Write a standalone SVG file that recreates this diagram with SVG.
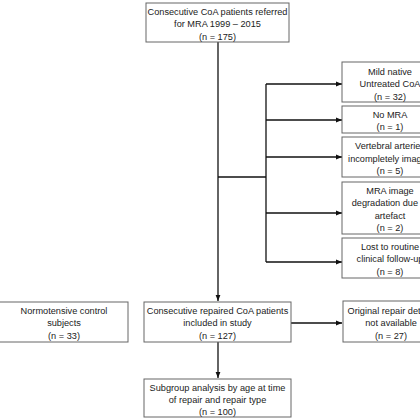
<svg xmlns="http://www.w3.org/2000/svg" width="420" height="420" viewBox="0 0 420 420">
<defs>
<marker id="ah" viewBox="0 0 10 10" refX="10" refY="5" markerWidth="6" markerHeight="6" markerUnits="userSpaceOnUse" orient="auto">
<path d="M0,1 L10,5 L0,9 Z" fill="#111"/>
</marker>
<style>
.box{fill:#fff;stroke:#666;stroke-width:1}
.t{font-family:"Liberation Sans",Arial,sans-serif;font-size:9.2px;fill:#222;text-anchor:middle}
.c{fill:none;stroke:#111;stroke-width:1.3}
</style>
</defs>
<rect width="420" height="420" fill="#fff"/>
<g id="connectors">
<path class="c" d="M218,42 V301" marker-end="url(#ah)"/>
<path class="c" d="M218,177 H266"/>
<path class="c" d="M266,84 V262"/>
<path class="c" d="M266,84 H342" marker-end="url(#ah)"/>
<path class="c" d="M266,120 H342" marker-end="url(#ah)"/>
<path class="c" d="M266,157 H342" marker-end="url(#ah)"/>
<path class="c" d="M266,213 H342" marker-end="url(#ah)"/>
<path class="c" d="M266,262 H342" marker-end="url(#ah)"/>
<path class="c" d="M291,323 H342" marker-end="url(#ah)"/>
<path class="c" d="M218,342 V378" marker-end="url(#ah)"/>
</g>
<g id="top">
<rect class="box" x="146" y="3" width="143" height="39"/>
<text class="t" x="217.5" y="14.5">Consecutive CoA patients referred</text>
<text class="t" x="217.5" y="27">for MRA 1999 – 2015</text>
<text class="t" x="217.5" y="39.5">(n = 175)</text>
</g>
<g id="mild">
<rect class="box" x="342" y="62" width="96" height="40"/>
<text class="t" x="390" y="74.5">Mild native</text>
<text class="t" x="390" y="87">Untreated CoA</text>
<text class="t" x="390" y="99.5">(n = 32)</text>
</g>
<g id="nomra">
<rect class="box" x="342" y="106" width="96" height="27"/>
<text class="t" x="390" y="117.5">No MRA</text>
<text class="t" x="390" y="130">(n = 1)</text>
</g>
<g id="vert">
<rect class="box" x="342" y="137" width="96" height="40"/>
<text class="t" x="390" y="149">Vertebral arteries</text>
<text class="t" x="390" y="161.5">incompletely imaged</text>
<text class="t" x="390" y="174">(n = 5)</text>
</g>
<g id="degr">
<rect class="box" x="342" y="182" width="96" height="52"/>
<text class="t" x="390" y="193.5">MRA image</text>
<text class="t" x="390" y="206">degradation due to</text>
<text class="t" x="390" y="218.5">artefact</text>
<text class="t" x="390" y="231">(n = 2)</text>
</g>
<g id="lost">
<rect class="box" x="342" y="238" width="96" height="40"/>
<text class="t" x="390" y="249.5">Lost to routine</text>
<text class="t" x="390" y="262">clinical follow-up</text>
<text class="t" x="390" y="274.5">(n = 8)</text>
</g>
<g id="control">
<rect class="box" x="-1" y="302" width="129" height="40"/>
<text class="t" x="64" y="313.5">Normotensive control</text>
<text class="t" x="64" y="326">subjects</text>
<text class="t" x="64" y="338.5">(n = 33)</text>
</g>
<g id="repaired">
<rect class="box" x="144" y="302" width="147" height="40"/>
<text class="t" x="217.5" y="313.5">Consecutive repaired CoA patients</text>
<text class="t" x="217.5" y="326">included in study</text>
<text class="t" x="217.5" y="338.5">(n = 127)</text>
</g>
<g id="orig">
<rect class="box" x="343" y="301" width="96" height="41"/>
<text class="t" x="391" y="313.5">Original repair details</text>
<text class="t" x="391" y="326">not available</text>
<text class="t" x="391" y="338.5">(n = 27)</text>
</g>
<g id="subgroup">
<rect class="box" x="144" y="379" width="147" height="38"/>
<text class="t" x="217.5" y="390.5">Subgroup analysis by age at time</text>
<text class="t" x="217.5" y="403">of repair and repair type</text>
<text class="t" x="217.5" y="415">(n = 100)</text>
</g>
</svg>
